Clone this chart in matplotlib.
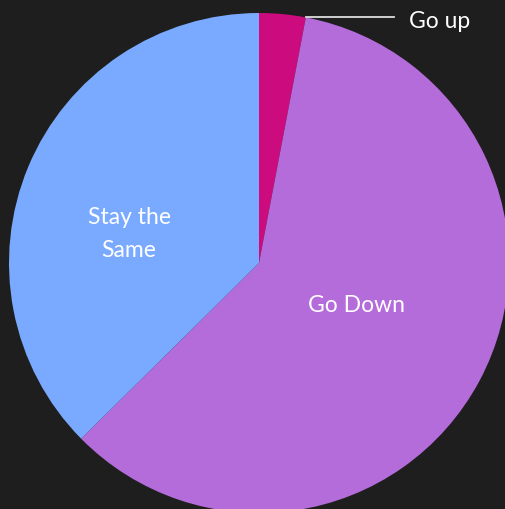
import numpy as np
import matplotlib.pyplot as plt

# --- data ---
labels = ["Go up", "Go Down", "Stay the Same"]
shares = [3.0, 59.6, 37.4]
colors = ["#CC0C7E", "#B56CDB", "#7AAAFF"]

BG = "#1E1E1E"
FONT = ["Lato", "DejaVu Sans"]

fig = plt.figure(figsize=(5.05, 5.10), dpi=100, facecolor=BG)
ax = fig.add_axes([0, 0, 1, 1])
ax.set_facecolor(BG)

# pie centre / radius in pixel units (y up)
cx, cy, r = 259, 510 - 264, 250
wedges, _ = ax.pie(shares, colors=colors, startangle=90, counterclock=False,
                   center=(cx, cy), radius=r, frame=True,
                   wedgeprops=dict(linewidth=0))
ax.set_xlim(0, 505)
ax.set_ylim(0, 510)
ax.set_aspect("equal")
ax.axis("off")

# "Go up" callout from the end of the small slice
end_ang = np.deg2rad(90 - 360 * shares[0] / sum(shares))
px, py = cx + r * np.cos(end_ang), cy + r * np.sin(end_ang)
ax.plot([px, 394], [py, py], color="#DDDDDD", lw=1.3)
ax.text(409, py - 3, labels[0], color="white", fontsize=16.5, family=FONT,
        ha="left", va="center")

# in-slice labels
ax.text(357, 510 - 306, labels[1], color="white", fontsize=16.5, family=FONT,
        ha="center", va="center")
ax.text(129, 510 - 234, "Stay the\nSame", color="white", fontsize=16.5,
        family=FONT, ha="center", va="center", linespacing=1.65)

fig.savefig("out.png", dpi=100, facecolor=BG)
